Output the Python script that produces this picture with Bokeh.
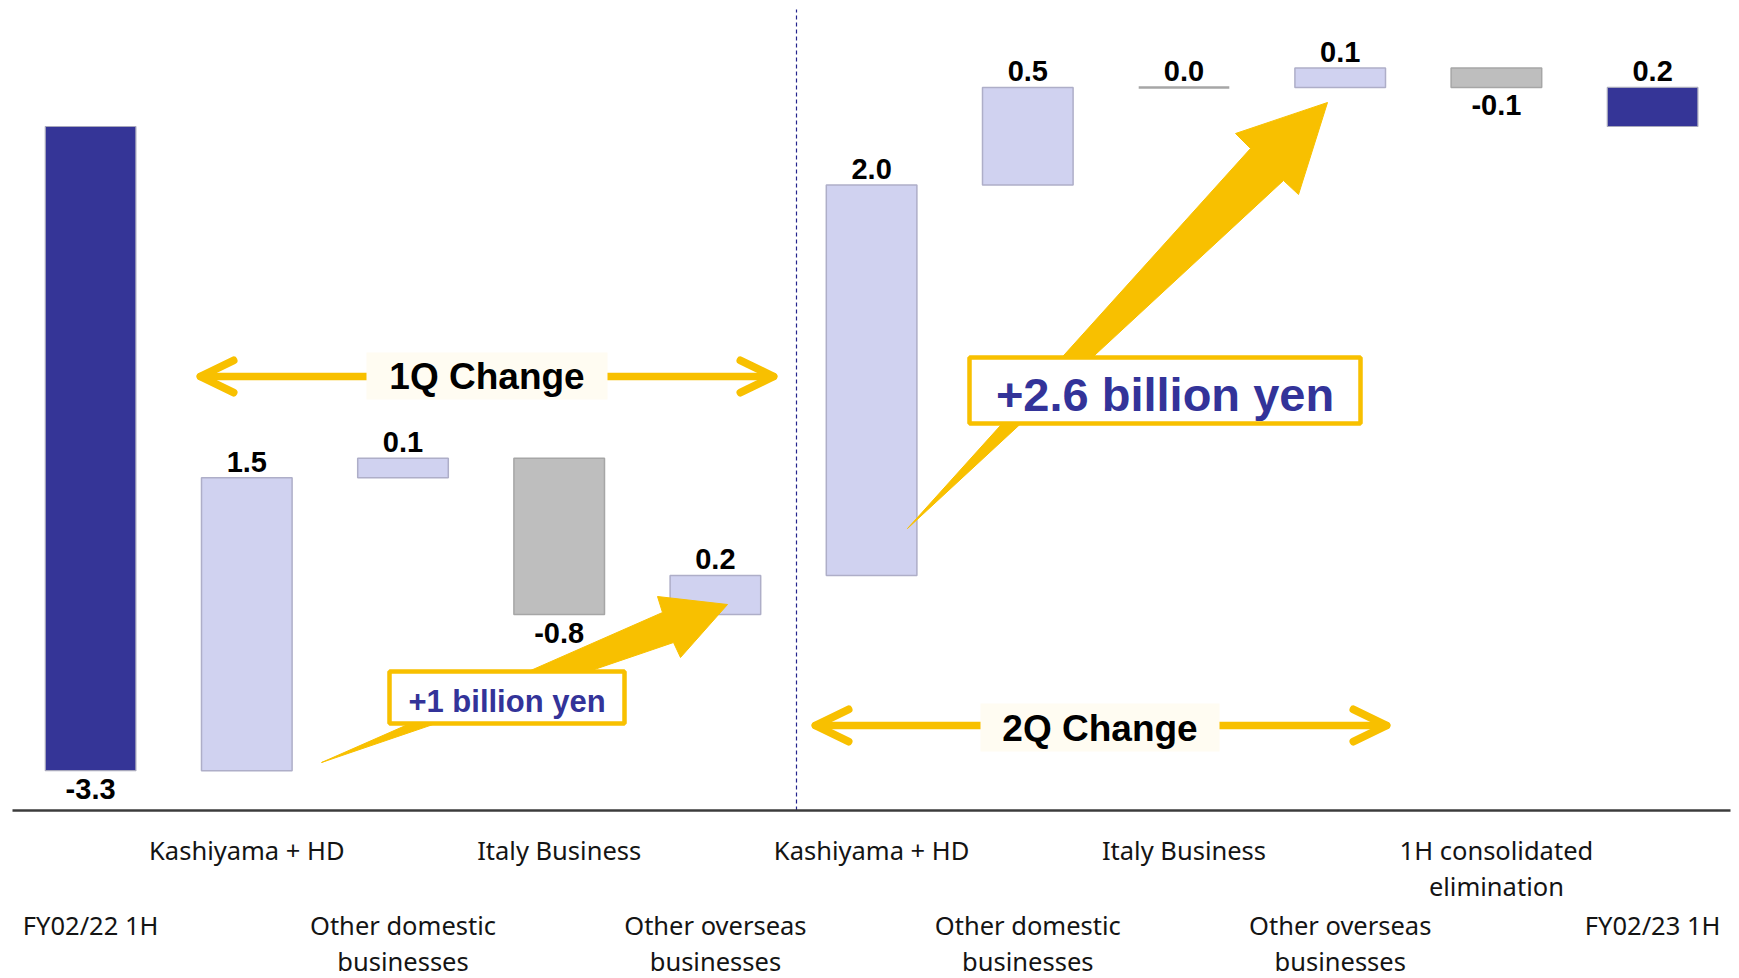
from bokeh.plotting import figure
from bokeh.models import Range1d, ColumnDataSource
from bokeh.core.properties import value
from bokeh.embed import file_html
from bokeh.resources import INLINE

# ---------------- data ----------------
categories = ["FY02/22 1H", "Kashiyama + HD", "Other domestic\nbusinesses", "Italy Business",
              "Other overseas\nbusinesses", "Kashiyama + HD", "Other domestic\nbusinesses",
              "Italy Business", "Other overseas\nbusinesses", "1H consolidated\nelimination",
              "FY02/23 1H"]
changes = [-3.3, 1.5, 0.1, -0.8, 0.2, 2.0, 0.5, 0.0, 0.1, -0.1, 0.2]
is_total = [True, False, False, False, False, False, False, False, False, False, True]
label_row = [1, 0, 1, 0, 1, 0, 1, 0, 1, 0, 1]   # 0 = upper row, 1 = lower row
period_labels = ["1Q Change", "2Q Change"]
callouts = ["+1 billion yen", "+2.6 billion yen"]

# ---------------- layout helpers (picture pixels -> data) ----------------
W, H = 1739, 978
UX, UY = 156.2, 195.2


def xd(px):
    return (px - 12.0) / UX - 0.5


def yd(py):
    return (126.0 - py) / UY


NAVY = "#353597"
LAV = "#D0D2F0"
GRAY = "#BEBEBE"
YEL = "#F8C000"

p = figure(width=W, height=H, output_backend="svg", toolbar_location=None,
           x_range=Range1d(xd(0), xd(W)), y_range=Range1d(yd(H), yd(0)),
           x_axis_type=None, y_axis_type=None, min_border=0)
p.grid.visible = False
p.outline_line_color = None
p.background_fill_color = "white"
p.border_fill_color = "white"

# ---------------- waterfall geometry ----------------
xs = list(range(len(changes)))
bottoms, tops, fills, lines, lws = [], [], [], [], []
run = 0.0
for v, t in zip(changes, is_total):
    if t:
        b, tp = min(0.0, v), max(0.0, v)
        run = v
        fills.append(NAVY); lines.append("#A8A8BC"); lws.append(1.2)
    else:
        start = run
        run = round(run + v, 6)
        b, tp = min(start, run), max(start, run)
        if v > 0:
            fills.append(LAV); lines.append("#AEAEC8"); lws.append(1.5)
        elif v < 0:
            fills.append(GRAY); lines.append("#A6A6A6"); lws.append(1.5)
        else:
            fills.append(GRAY); lines.append("#A6A6A6"); lws.append(2.5)
    bottoms.append(b)
    tops.append(tp)

# divider and baseline
p.segment(x0=[xd(796)], y0=[yd(810)], x1=[xd(796)], y1=[yd(9)],
          line_color="#24248C", line_width=1.2, line_dash="4 3")
p.segment(x0=[xd(12)], y0=[yd(810)], x1=[xd(1730)], y1=[yd(810)],
          line_color="#3C3C3C", line_width=2.5)

src = ColumnDataSource(dict(x=xs, bottom=bottoms, top=tops, fill=fills, line=lines, lw=lws))
p.vbar(x="x", bottom="bottom", top="top", width=0.58, source=src,
       fill_color="fill", line_color="line", line_width="lw")

# ---------------- period arrows ----------------
def double_arrow(x_left, x_right, y, box, label, mid_y):
    p.segment(x0=[xd(x_left)], y0=[yd(y)], x1=[xd(x_right)], y1=[yd(y)],
              line_color=YEL, line_width=7.5, line_cap="round")
    p.multi_line(xs=[[xd(x_left + 33), xd(x_left), xd(x_left + 33)],
                     [xd(x_right - 33), xd(x_right), xd(x_right - 33)]],
                 ys=[[yd(y - 16), yd(y), yd(y + 16)], [yd(y - 16), yd(y), yd(y + 16)]],
                 line_color=YEL, line_width=8, line_cap="round", line_join="round")
    p.quad(left=[xd(box[0])], right=[xd(box[1])], top=[yd(box[2])], bottom=[yd(box[3])],
           fill_color="#FFFCF2", line_color=None)
    p.text(x=[xd((box[0] + box[1]) / 2)], y=[yd(mid_y)], text=[label],
           text_font=value("Liberation Sans"), text_font_style="bold",
           text_font_size=value("37px"), text_color="black",
           text_align="center", text_baseline="middle")


double_arrow(200, 773, 376, (366, 607, 352, 399), period_labels[0], 376)
double_arrow(815, 1386, 725, (980, 1219, 703, 751), period_labels[1], 728)

# ---------------- callout arrows ----------------
small_arrow = [(321, 762), (662, 612), (657, 596), (727, 604), (680, 657), (673, 642)]
big_arrow = [(907, 528), (1250, 148), (1235, 133), (1327, 102), (1298, 194), (1283, 180)]
for poly in (small_arrow, big_arrow):
    p.patch(x=[xd(a) for a, b in poly], y=[yd(b) for a, b in poly],
            fill_color=YEL, line_color=YEL, line_width=1)


def callout(box, text, mid_y, size):
    p.quad(left=[xd(box[0])], right=[xd(box[1])], top=[yd(box[2])], bottom=[yd(box[3])],
           fill_color="white", line_color=YEL, line_width=4.5)
    p.text(x=[xd((box[0] + box[1]) / 2)], y=[yd(mid_y)], text=[text],
           text_font=value("Liberation Sans"), text_font_style="bold",
           text_font_size=value(size), text_color="#333399",
           text_align="center", text_baseline="middle")


callout((389, 624, 671, 723), callouts[0], 701, "31px")
callout((969, 1360, 357, 423), callouts[1], 394, "47px")

# ---------------- value labels ----------------
up_x, up_y, up_t, dn_x, dn_y, dn_t = [], [], [], [], [], []
for i, v in enumerate(changes):
    txt = f"{v:.1f}"
    if v < 0:
        dn_x.append(i); dn_y.append(bottoms[i]); dn_t.append(txt)
    else:
        up_x.append(i); up_y.append(tops[i]); up_t.append(txt)

p.text(x=up_x, y=up_y, text=up_t, text_font=value("Liberation Sans"), text_font_style="bold",
       text_font_size=value("29px"), text_color="black", text_align="center",
       text_baseline="bottom", y_offset=-6)
p.text(x=dn_x, y=dn_y, text=dn_t, text_font=value("Liberation Sans"), text_font_style="bold",
       text_font_size=value("29px"), text_color="black", text_align="center",
       text_baseline="top", y_offset=8)

# ---------------- category labels (two staggered rows) ----------------
row_start = [849, 924]
line_gap = 36
cx, cy, ct = [], [], []
for i, lab in enumerate(categories):
    for j, part in enumerate(lab.split("\n")):
        cx.append(i)
        cy.append(yd(row_start[label_row[i]] + j * line_gap))
        ct.append(part)
p.text(x=cx, y=cy, text=ct, text_font=value("Noto Sans"), text_font_size=value("25.5px"),
       text_color="#141414", text_align="center", text_baseline="middle")

open("out.html", "w").write(file_html(p, INLINE))
